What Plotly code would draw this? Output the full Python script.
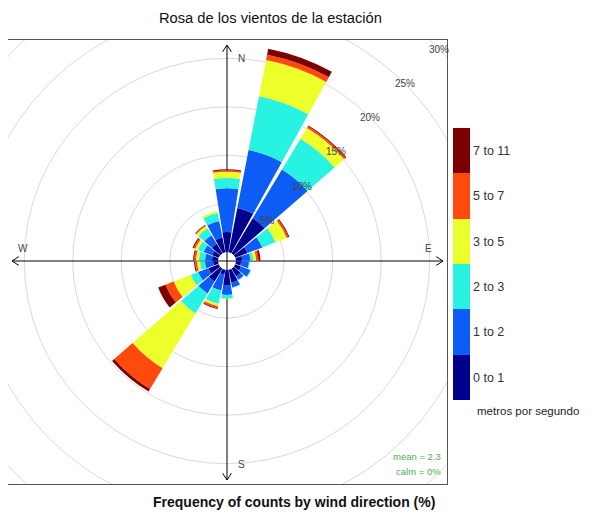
# Wind rose (openair style) rebuilt with plotly barpolar
import plotly.graph_objects as go

# %%
# data: % of counts by direction (degrees from north), one list per speed bin
direcciones = [0, 20, 40, 60, 80, 100, 120, 140, 160, 180,
               200, 220, 240, 260, 280, 300, 320, 340]
bins = ['0 to 1', '1 to 2', '2 to 3', '3 to 5', '5 to 7', '7 to 11']
f_0_1 = [2.1, 4.67, 4.25, 1.37, 0.67, 0.55, 0.65, 0.96, 1.37, 1.57,
         0.54, 1.57, 1.16, 0.54, 0.65, 0.75, 1.16, 1.57]
f_1_2 = [4.5, 6.08, 5.85, 1.63, 0.83, 0.82, 1.03, 0.41, 0.51, 1.03,
         1.66, 1.43, 1.14, 0.83, 0.72, 0.93, 1.04, 1.73]
f_2_3 = [1.06, 5.65, 3.7, 1.46, 0.3, 0.08, 0.1, 0.05, 0.05, 0.4,
         1.4, 2.4, 0.8, 0.51, 0.62, 0.62, 0.8, 0.85]
f_3_5 = [0.64, 3.8, 1.3, 1.24, 0.3, 0, 0, 0, 0, 0.05,
         0.25, 6.6, 1.9, 0.31, 0.31, 0.3, 0.3, 0.2]
f_5_7 = [0.15, 0.55, 0.2, 0.2, 0.25, 0, 0, 0, 0, 0,
         0.2, 2.5, 0.9, 0.21, 0.2, 0.2, 0.1, 0]
f_7_11 = [0.1, 0.65, 0.1, 0.1, 0.2, 0, 0, 0, 0, 0,
          0.1, 0.3, 0.8, 0.1, 0.1, 0.1, 0.05, 0]
anillos = [5, 10, 15, 20, 25, 30]
colores = ['#00008c', '#0d5cf5', '#28f2e2', '#ecff2a', '#ff4a0d', '#7d0000']

# %%
# geometry: positions below are page pixels (the page body has an 8px margin)
OFF = 8
W, H = 582, 507            # figure size, fits the 590x515 window with the margin
CX, CY = 227, 261          # centre of the rose
PX = 9.7                   # pixels per 1 %
HOLE = 0.9                 # hole in the middle, in % units
BOX = (8, 447, 40, 484)    # left, right, top, bottom of the panel
RP = 219                   # polar circle radius in px
FONT = 'Liberation Sans, Arial'


def fx(x):  # page px -> paper fraction
    return (x - OFF) / W


def fy(y):
    return (H - (y - OFF)) / H


x_rng = [(BOX[0] - CX) / PX, (BOX[1] - CX) / PX]
y_rng = [-(BOX[3] - CY) / PX, (CY - BOX[2]) / PX]

fig = go.Figure()

series = [f_0_1, f_1_2, f_2_3, f_3_5, f_5_7, f_7_11]
for name, vals, col in zip(bins, series, colores):
    fig.add_trace(go.Barpolar(r=vals, theta=direcciones, width=18, name=name,
                              marker=dict(color=col, line=dict(width=0)),
                              subplot='polar'))

# dummy trace just to get the speed colour key
cs = []
for i, col in enumerate(colores):
    cs += [[i / 6, col], [(i + 1) / 6, col]]
fig.add_trace(go.Scatter(x=[1000], y=[1000], mode='markers', showlegend=False,
                         hoverinfo='skip',
                         marker=dict(color=[0], cmin=0, cmax=6, colorscale=cs, opacity=0,
                                     showscale=True,
                                     colorbar=dict(x=fx(453), xanchor='left', xpad=0,
                                                   y=fy(128), yanchor='top', ypad=0,
                                                   len=272 / H, lenmode='fraction',
                                                   thickness=17, outlinewidth=0,
                                                   tickvals=[i + 0.5 for i in range(6)],
                                                   ticktext=bins, ticks='', ticklen=1,
                                                   tickfont=dict(family=FONT, size=12.5,
                                                                 color='#333')))))

shapes = []
for p in anillos:
    r = p + HOLE
    shapes.append(dict(type='circle', xref='x', yref='y', x0=-r, x1=r, y0=-r, y1=r,
                       line=dict(color='#d9d9d9', width=1), layer='below'))

# compass lines with open arrow heads
t, b = (CY - 45) / PX, -(480 - CY) / PX
l, rr = -(CX - 12) / PX, (443 - CX) / PX
axis_line = dict(color='black', width=1)
shapes += [
    dict(type='line', xref='x', yref='y', x0=0, x1=0, y0=b, y1=t, line=axis_line, layer='below'),
    dict(type='line', xref='x', yref='y', x0=l, x1=rr, y0=0, y1=0, line=axis_line, layer='below'),
    dict(type='path', xref='x', yref='y', line=axis_line, layer='below',
         path=f'M -0.45,{t - 0.7} L 0,{t} L 0.45,{t - 0.7}'),
    dict(type='path', xref='x', yref='y', line=axis_line, layer='below',
         path=f'M -0.45,{b + 0.7} L 0,{b} L 0.45,{b + 0.7}'),
    dict(type='path', xref='x', yref='y', line=axis_line, layer='below',
         path=f'M {l + 0.7},0.45 L {l},0 L {l + 0.7},-0.45'),
    dict(type='path', xref='x', yref='y', line=axis_line, layer='below',
         path=f'M {rr - 0.7},0.45 L {rr},0 L {rr - 0.7},-0.45'),
]

ann = []
small = dict(family=FONT, size=10, color='#444')
for p in anillos:
    d = (p + HOLE) * 0.7071
    ann.append(dict(x=d, y=d, xref='x', yref='y', text=f'{p}%', showarrow=False, font=small))
for txt, x, y in [('N', 1.45, 20.9), ('S', 1.45, -21.0), ('W', -21.0, 1.3), ('E', 20.8, 1.3)]:
    ann.append(dict(x=x, y=y, xref='x', yref='y', text=txt, showarrow=False, font=small))
green = dict(family=FONT, size=9.5, color='#4caf50')
ann.append(dict(x=x_rng[1] - 0.4, y=-(456 - CY) / PX, xref='x', yref='y', text='mean = 2.3',
                showarrow=False, xanchor='right', font=green))
ann.append(dict(x=x_rng[1] - 0.4, y=-(471 - CY) / PX, xref='x', yref='y', text='calm = 0%',
                showarrow=False, xanchor='right', font=green))
ann.append(dict(x=fx(270), y=fy(18), xref='paper', yref='paper', showarrow=False,
                yanchor='middle', text='Rosa de los vientos de la estación',
                font=dict(family=FONT, size=14.7, color='#111')))
ann.append(dict(x=fx(293.5), y=fy(502), xref='paper', yref='paper', showarrow=False,
                yanchor='middle', text='<b>Frequency of counts by wind direction (%)</b>',
                font=dict(family=FONT, size=14, color='#111')))
ann.append(dict(x=fx(475), y=fy(411), xref='paper', yref='paper', showarrow=False,
                xanchor='left', yanchor='middle', text='metros por segundo',
                font=dict(family=FONT, size=11.5, color='#222')))

fig.update_layout(
    width=W, height=H, margin=dict(l=0, r=0, t=0, b=0),
    paper_bgcolor='white', plot_bgcolor='white', showlegend=False,
    font=dict(family=FONT),
    xaxis=dict(domain=[fx(BOX[0]), fx(BOX[1])], range=x_rng, showgrid=False, zeroline=False,
               showticklabels=False, ticks='', showline=True, mirror=True,
               linecolor='#555', linewidth=1, fixedrange=True),
    yaxis=dict(domain=[fy(BOX[3]), fy(BOX[2])], range=y_rng, showgrid=False,
               zeroline=False, showticklabels=False, ticks='', showline=True, mirror=True,
               linecolor='#555', linewidth=1, fixedrange=True),
    polar=dict(domain=dict(x=[fx(CX - RP), fx(CX + RP)],
                           y=[fy(CY + RP), fy(CY - RP)]),
               bgcolor='rgba(0,0,0,0)', hole=HOLE / (RP / PX), barmode='stack',
               radialaxis=dict(range=[0, RP / PX - HOLE], visible=False),
               angularaxis=dict(rotation=90, direction='clockwise', showgrid=False,
                                showline=False, showticklabels=False, ticks='')),
    shapes=shapes, annotations=ann,
)

fig.write_html('out.html')
